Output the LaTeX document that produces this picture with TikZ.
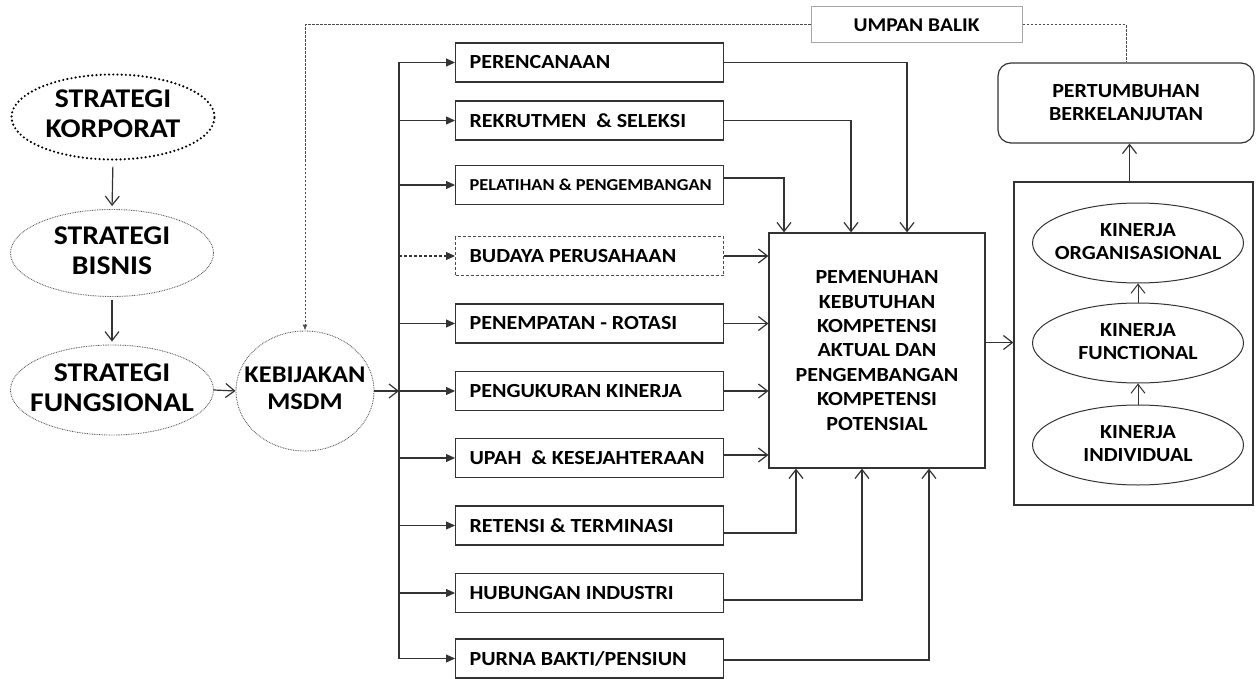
\documentclass[tikz,border=0pt]{standalone}
\usepackage{fontspec}
\setmainfont{Carlito}[FakeStretch=1.1]
\usetikzlibrary{arrows.meta,shapes.geometric,calc}

% zero-width centred stack of lines, so an ellipse keeps its given size
\newcommand\ztext[1]{\makebox[0pt]{\begin{tabular}{@{}c@{}}#1\end{tabular}}}
% fixed-width, left-aligned single line for the function boxes
\newcommand\fline[1]{\makebox[240pt][l]{#1}}

\begin{document}
\begin{tikzpicture}[x=1pt,y=-1pt,
  ln/.style={draw=black!80, line width=1.2pt},
  box/.style={ln, rectangle, minimum height=39pt,
    inner xsep=14pt, inner ysep=0pt, anchor=west,
    font=\bfseries\fontsize{20}{23}\selectfont},
  dashbox/.style={box, draw=black!70, dash pattern=on 3pt off 2pt},
  strat/.style={ellipse, inner sep=0pt, minimum width=203pt,
    font=\bfseries\fontsize{27}{30}\selectfont},
  thindot/.style={draw=black!65, line width=0.9pt, dash pattern=on 0.8pt off 0.9pt},
  kin/.style={ellipse, ln, line width=1pt, inner sep=0pt, minimum width=211pt,
    minimum height=80pt, font=\bfseries\fontsize{20}{23}\selectfont},
  busarr/.style={ln, -{Triangle[length=9pt,width=8pt]}},
  openarr/.style={ln, -{Straight Barb[length=9pt,width=14pt]}},
  fbline/.style={draw=black!70, line width=1pt, dash pattern=on 2.5pt off 1.5pt},
]
\useasboundingbox (0,0) rectangle (1257,679);

% strategy chain
\node[strat, minimum height=85pt, draw=black, line width=2.4pt,
  line cap=round, dash pattern=on 0pt off 4.2pt] (korp) at (113,117)
  {\ztext{STRATEGI\\KORPORAT}};
\node[strat, thindot, minimum height=87pt] (bis) at (112,253)
  {\ztext{STRATEGI\\BISNIS}};
\node[strat, thindot, minimum height=90pt] (fung) at (112,390)
  {\ztext{STRATEGI\\FUNGSIONAL}};
\node[ellipse, thindot, inner sep=0pt, minimum width=138pt, minimum height=120pt,
  font=\bfseries\fontsize{24}{27}\selectfont] (kebij) at (305,391)
  {\ztext{KEBIJAKAN\\MSDM}};

\draw[openarr, shorten <=6pt, shorten >=3pt] (korp.south) -- (bis.north);
\draw[openarr, shorten <=3pt, shorten >=3pt] (bis.south) -- (fung.north);
\draw[openarr] (fung.east) -- (kebij.west);

% HR function boxes
\node[box] (per)  at (455,62.5)  {\fline{PERENCANAAN}};
\node[box] (rek)  at (455,120.5) {\fline{REKRUTMEN\ \ \& SELEKSI}};
\node[box, font=\bfseries\fontsize{16.7}{19}\selectfont] (pel) at (455,185)
  {\fline{PELATIHAN \& PENGEMBANGAN}};
\node[dashbox] (bud) at (455,256) {\fline{BUDAYA PERUSAHAAN}};
\node[box] (pen)  at (455,323.5) {\fline{PENEMPATAN - ROTASI}};
\node[box] (peng) at (455,391)   {\fline{PENGUKURAN KINERJA}};
\node[box] (upah) at (455,458)   {\fline{UPAH\ \ \& KESEJAHTERAAN}};
\node[box] (ret)  at (455,525.5) {\fline{RETENSI \& TERMINASI}};
\node[box] (hub)  at (455,593)   {\fline{HUBUNGAN INDUSTRI}};
\node[box] (pur)  at (455,658.5) {\fline{PURNA BAKTI/PENSIUN}};

% distribution bus
\coordinate (bus) at (399,391);
\draw[openarr] (kebij.east) -- (bus);
\draw[ln] (bus |- per.west) -- (bus |- pur.west);
\foreach \b in {per,rek,pel,pen,peng,upah,ret,hub,pur}
  \draw[busarr] (bus |- \b.west) -- (\b.west);
\draw[busarr, dash pattern=on 3pt off 2pt] (bus |- bud.west) -- (bud.west);

% competency box
\node[ln, rectangle, minimum width=216pt, minimum height=235pt, align=center,
  font=\bfseries\fontsize{20}{24.4}\selectfont] (pem) at (877,350.5)
  {PEMENUHAN\\KEBUTUHAN\\KOMPETENSI\\AKTUAL DAN\\PENGEMBANGAN\\KOMPETENSI\\POTENSIAL};

\draw[openarr] (per.east) -| ([xshift=30pt]pem.north);
\draw[openarr] (rek.east) -| ([xshift=-26pt]pem.north);
\draw[openarr] ([yshift=7pt]pel.east) -| ([xshift=-93pt]pem.north);
\foreach \b in {bud,pen,peng}
  \draw[openarr] (\b.east) -- (\b.east -| pem.west);
\draw[openarr] ([yshift=3pt]upah.east) -- ([yshift=3pt]upah.east -| pem.west);
\draw[openarr] ([yshift=-7.5pt]ret.east) -| ([xshift=-81pt]pem.south);
\draw[openarr] ([yshift=-7pt]hub.east) -| ([xshift=-15pt]pem.south);
\draw[openarr] ([yshift=-1.5pt]pur.east) -| ([xshift=52pt]pem.south);

% performance levels
\node[ln, rectangle, minimum width=239pt, minimum height=323pt] (kinbox) at (1133.5,343.5) {};
\node[kin] (korg) at (1138,243) {\ztext{KINERJA\\ORGANISASIONAL}};
\node[kin] (kfun) at (1138,343) {\ztext{KINERJA\\FUNCTIONAL}};
\node[kin] (kind) at (1138,445) {\ztext{KINERJA\\INDIVIDUAL}};
\draw[openarr, line width=1pt] (kind.north) -- (kfun.south);
\draw[openarr, line width=1pt] (kfun.north) -- (korg.south);
\draw[openarr] ([yshift=8pt]pem.east) -- ([yshift=8pt]pem.east -| kinbox.west);

% sustainable growth
\node[ln, rectangle, rounded corners=13pt, minimum width=256pt, minimum height=80pt,
  align=center, font=\bfseries\fontsize{20}{23}\selectfont] (pert) at (1126,103)
  {PERTUMBUHAN\\BERKELANJUTAN};
\draw[openarr] ([xshift=-4pt]kinbox.north) -- ([xshift=-4pt]kinbox.north |- pert.south);

% feedback loop
\node[draw=black!35, line width=1pt, minimum width=211pt, minimum height=36pt,
  inner sep=0pt, font=\bfseries\fontsize{19.5}{22}\selectfont] (umpan) at (916.5,25)
  {UMPAN BALIK};
\draw[fbline, -{Latex[length=6pt,width=5pt]}] (umpan.west) -- (umpan.west -| kebij.north) -- (kebij.north);
\draw[fbline] (umpan.east) -| (pert.north);
\end{tikzpicture}
\end{document}
